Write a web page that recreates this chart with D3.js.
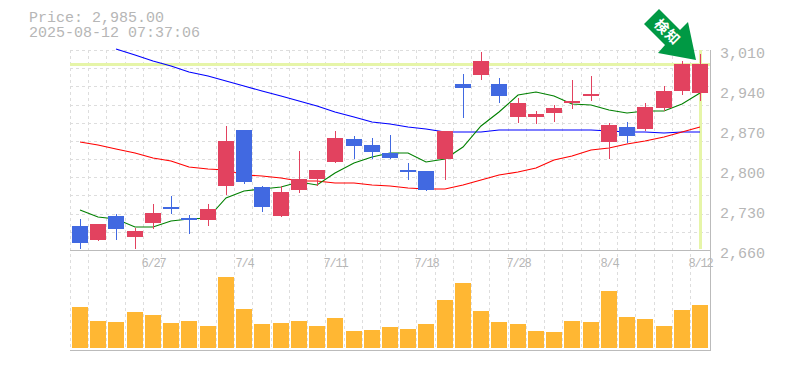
<!DOCTYPE html>
<html>
<head>
<meta charset="utf-8">
<script src="https://cdn.jsdelivr.net/npm/d3@7"></script>
<style>
html,body{margin:0;padding:0;background:#fff;overflow:hidden}
text{font-family:"Liberation Mono",monospace}
</style>
</head>
<body>
<svg id="chart" width="785" height="370"></svg>
<script>
const opens  = [2702,2677.5,2719.5,2682.75,2707.25,2735.25,2716,2712.5,2772,2870,2770.25,2719.5,2765,2784.25,2814,2854.25,2843.75,2829.75,2800,2798.25,2819.25,2950.5,2966.25,2950.5,2892.75,2892.75,2899.75,2917.25,2929.5,2849,2875.25,2871.75,2908.5,2938.25,2934.75];
const highs  = [2714.25,2705.5,2723,2698.5,2740.5,2754.5,2721.25,2740.5,2877,2870,2772,2772,2833.25,2800,2868.25,2859.5,2856,2861.25,2812.25,2798.25,2868.25,2968,3006.5,2961,2926,2903.25,2913.75,2957.5,2964.5,2882.25,2884,2917.25,2947,2990.75,3003];
const lows   = [2661.75,2675.75,2677.5,2661.75,2696.75,2723,2688,2702,2756.25,2775.5,2726.5,2717.75,2759.75,2772,2812.25,2819.25,2819.25,2819.25,2782.5,2763.25,2782.5,2891,2957.5,2917.25,2882.25,2880.5,2884,2906.75,2920.75,2819.25,2847.25,2868.25,2903.25,2931.25,2920.75];
const closes = [2672.25,2705.5,2696.75,2693.25,2724.75,2731.75,2712.5,2731.75,2850.75,2779,2735.25,2761.5,2784.25,2800,2856,2842,2831.5,2821,2796.5,2765,2868.25,2943.5,2990.75,2929.5,2917.25,2898,2908.5,2920.75,2933,2878.75,2859.5,2910.25,2938.25,2985.5,2985];
const volumes = [41,27,26,36,33,25,27,22,71,39,24,25,27,22,30,17,18,21,19,24,48,65,37,26,24,17,16,27,26,57,31,29,22,38,43];
const maShort = [2730,2717.75,2714.25,2700.25,2700.25,2710.75,2714.25,2716,2751,2763.25,2766.75,2770.25,2779,2773.75,2794.75,2812.25,2822.75,2829.75,2829.75,2814,2819.25,2840.25,2877,2901.5,2931.25,2936.5,2929.5,2915.5,2913.75,2905,2899.75,2903.25,2903.25,2915.5,2934.75];
const maMid = [2849,2843.75,2836.75,2829.75,2821,2815.75,2805.25,2801.75,2800,2791.25,2789.5,2786,2780.75,2780.75,2777.25,2777.25,2773.75,2772,2768.5,2766.75,2766.75,2773.75,2782.5,2791.25,2796.5,2803.5,2817.5,2824.5,2835,2838.5,2845.5,2850.75,2857.75,2866.5,2875.25];
const maLong = [null,null,3011.75,3001.25,2990.75,2982,2971.5,2964.5,2955.75,2947,2938.25,2929.5,2920.75,2912,2901.5,2892.75,2884,2880.5,2875.25,2871.75,2866.5,2866.5,2866.5,2870,2870,2870,2870,2870,2870,2868.25,2866.5,2866.5,2864.75,2866.5,2866.5];
const priceTicks = [3010,2940,2870,2800,2730,2660];
const dateLabels = ["6/27","7/4","7/11","7/18","7/28","8/4","8/12"];
const dateIndex = [4,9,14,19,24,29,34];
const currentPrice = 2985;
const titleLines = ["Price: 2,985.00","2025-08-12 07:37:06"];
const badgeText = "検知";

const grey="#b6b6b6", frameCol="#bbbbbb", gridCol="#dddddd", hi="#e6f5a8", up="#e2425f", down="#4169e1", volCol="#ffb733", arrowCol="#009944";
const L=70,R=710,T=50,B=250,VB=350,VBase=348;
const candleW=16;
const idx=d3.range(opens.length);
const xLeft=d3.scaleLinear().domain([0,34]).range([72,692]);
const xMid=i=>Math.round(xLeft(i))+8;
const y=d3.scaleLinear().domain([2660,3010]).range([B,T]);
const yV=d3.scaleLinear().domain([0,98]).range([VBase,B]);
const svg=d3.select("#chart");
const crisp=s=>s.attr("shape-rendering","crispEdges");

// grid
const gGrid=crisp(svg.append("g").attr("stroke",gridCol).attr("stroke-dasharray","3,3").attr("fill","none"));
d3.range(11).forEach(k=>{const yy=Math.round(T+k*(B-T)/11)+.5;
  gGrid.append("line").attr("x1",L).attr("x2",R).attr("y1",yy).attr("y2",yy);});
idx.forEach(i=>{const xx=Math.round(xLeft(i))-1.5;
  gGrid.append("line").attr("x1",xx).attr("x2",xx).attr("y1",T).attr("y2",VB);});

// frame
const gF=crisp(svg.append("g").attr("stroke",frameCol).attr("fill","none"));
gF.append("line").attr("x1",L).attr("x2",R+1).attr("y1",B+.5).attr("y2",B+.5);
gF.append("line").attr("x1",L).attr("x2",R+1).attr("y1",VB+.5).attr("y2",VB+.5);
gF.append("line").attr("x1",R+.5).attr("x2",R+.5).attr("y1",T).attr("y2",VB);

// current price highlight
crisp(svg.append("rect")).attr("x",L).attr("width",R-L).attr("y",Math.round(y(currentPrice))-1).attr("height",3).attr("fill",hi);
crisp(svg.append("rect")).attr("x",xMid(34)-1).attr("width",3).attr("y",T).attr("height",B-T-1).attr("fill",hi);

// moving averages
const line=d3.line().defined(d=>d[1]!=null).x(d=>xMid(d[0])).y(d=>y(d[1]));
[[maLong,"#0000ff"],[maMid,"#ff0000"],[maShort,"#008000"]].forEach(([arr,c])=>{
  svg.append("path").attr("d",line(arr.map((v,i)=>[i,v]))).attr("fill","none").attr("stroke",c).attr("stroke-width",1.1);
});

// candles
const gC=crisp(svg.append("g"));
idx.forEach(i=>{
  const c=closes[i]>=opens[i]?up:down;
  const top=Math.round(y(Math.max(opens[i],closes[i]))), bot=Math.round(y(Math.min(opens[i],closes[i])));
  gC.append("rect").attr("x",xMid(i)).attr("width",1).attr("y",Math.round(y(highs[i]))).attr("height",Math.round(y(lows[i]))-Math.round(y(highs[i]))).attr("fill",c);
  gC.append("rect").attr("x",Math.round(xLeft(i))).attr("width",candleW).attr("y",top).attr("height",Math.max(bot-top,2)).attr("fill",c);
});

// volume
crisp(svg.append("g")).selectAll("rect").data(idx).join("rect")
  .attr("x",i=>Math.round(xLeft(i))).attr("width",candleW)
  .attr("y",i=>Math.round(yV(volumes[i]))).attr("height",i=>VBase-Math.round(yV(volumes[i]))).attr("fill",volCol);

// axes
const axY=d3.axisRight(y).tickValues(priceTicks).tickSize(0).tickPadding(10).tickFormat(d3.format(","));
const gY=svg.append("g").attr("transform",`translate(${R},0)`).call(axY);
gY.select(".domain").remove();
gY.selectAll("text").attr("font-size",15).attr("fill",grey).attr("font-family","Liberation Mono").attr("dy","0.48em");
const axX=d3.axisBottom(d3.scaleOrdinal().domain(dateLabels).range(dateIndex.map(xMid))).tickSize(0).tickPadding(8);
const gX=svg.append("g").attr("transform",`translate(0,${B})`).call(axX);
gX.select(".domain").remove();
gX.selectAll("text").attr("font-size",12).attr("letter-spacing","-1.2px").attr("fill",grey).attr("font-family","Liberation Mono");

// title
const title=svg.append("text").attr("y",22).attr("font-size",15).attr("fill",grey);
title.selectAll("tspan").data(titleLines).join("tspan")
  .attr("x",29).attr("dy",(d,i)=>i?15:0).text(d=>d);

// arrow badge
svg.append("polygon").attr("points","659,9 644,24 665,45 658,53 696,60 688,22 680,30").attr("fill",arrowCol);
svg.append("text").attr("transform","translate(667.5,32) rotate(45)").attr("text-anchor","middle").attr("dy","0.36em")
  .attr("font-size",14).attr("letter-spacing","1px").attr("font-weight","bold").attr("fill","#fff").style("font-family","'Noto Sans CJK JP'").text(badgeText);
</script>
</body>
</html>
